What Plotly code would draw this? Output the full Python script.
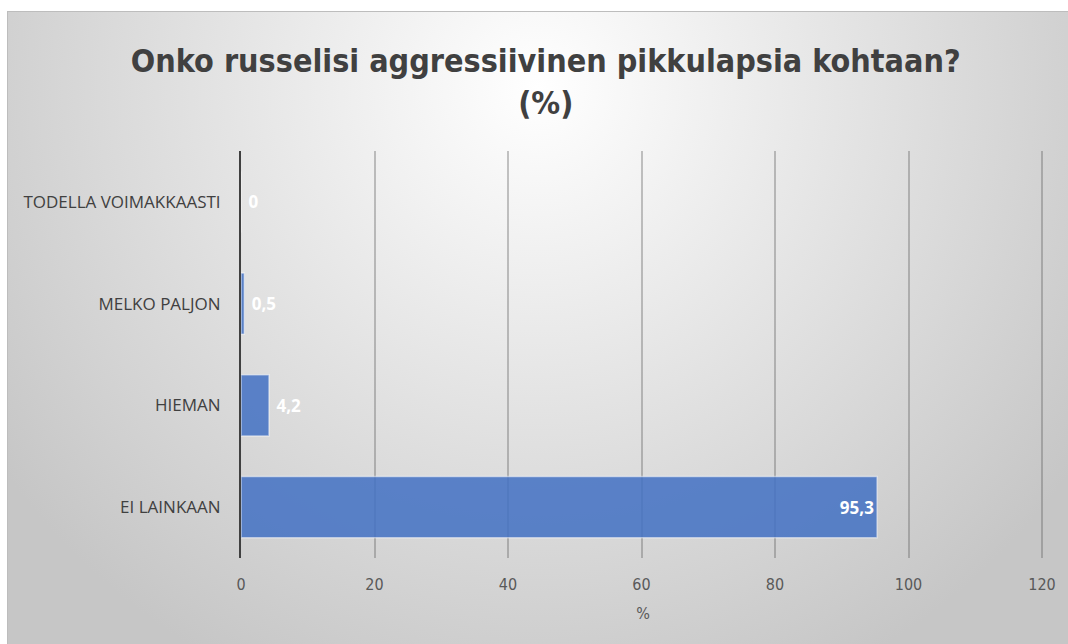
import base64
import plotly.graph_objects as go

categories = ["EI LAINKAAN", "HIEMAN", "MELKO PALJON", "TODELLA VOIMAKKAASTI"]
values = [95.3, 4.2, 0.5, 0]
x_ticks = [0, 20, 40, 60, 80, 100, 120]

title_text = "Onko russelisi aggressiivinen pikkulapsia kohtaan?<br>(%)"
x_title = "%"

W, H = 1068, 644
ML, MR, MT, MB = 241, 23, 151, 86
X_MAX = 120.45  # a touch past 120 so its gridline is still drawn
narrow = "DejaVu Sans Condensed, Liberation Sans Narrow, Lato, sans-serif"

labels = [f"{v:g}".replace(".", ",") for v in values]
positions = ["inside" if v > 20 else "outside" for v in values]
# small bars: Excel puts the label a little away from the axis
labels = [t if p == "inside" else "\u00a0" + t for t, p in zip(labels, positions)]

# radial grey gradient behind the chart, like the Office default style
bg_w, bg_h = W - 7, H - 11
svg = f"""<svg xmlns='http://www.w3.org/2000/svg' width='{bg_w}' height='{bg_h}' viewBox='0 0 {bg_w} {bg_h}' preserveAspectRatio='none'>
<defs><radialGradient id='g' gradientUnits='userSpaceOnUse' cx='{bg_w*0.5}' cy='{bg_h*0.12}' r='{bg_w*0.62}'>
<stop offset='0' stop-color='#ffffff'/><stop offset='1' stop-color='#c6c6c6'/></radialGradient></defs>
<rect x='0' y='0' width='{bg_w}' height='{bg_h}' fill='url(#g)'/>
<line x1='0' y1='0.5' x2='{bg_w}' y2='0.5' stroke='#bdbdbd' stroke-width='1'/>
<line x1='0.5' y1='0' x2='0.5' y2='{bg_h}' stroke='#bdbdbd' stroke-width='1'/>
</svg>"""
src = "data:image/svg+xml;base64," + base64.b64encode(svg.encode()).decode()

pw, ph = W - ML - MR, H - MT - MB

fig = go.Figure(go.Bar(
    x=values, y=categories, orientation="h",
    text=labels, textposition=positions, insidetextanchor="end",
    textfont=dict(family="Open Sans", size=17, color="white", weight="bold"),
    outsidetextfont=dict(family="Open Sans", size=17, color="white", weight="bold"),
    marker=dict(color="#4472c4", opacity=0.86,
                line=dict(color="rgba(255,255,255,0.55)", width=1.5)),
    cliponaxis=False,
))

fig.update_layout(
    width=W, height=H,
    margin=dict(l=ML, r=MR, t=MT, b=MB, pad=0),
    paper_bgcolor="white", plot_bgcolor="rgba(0,0,0,0)",
    bargap=0.4,
    showlegend=False,
    title=dict(text=title_text, x=0.511, xanchor="center", y=0.888, yanchor="middle",
               font=dict(family=narrow, size=32, color="#404040", weight="bold")),
    images=[dict(source=src, xref="paper", yref="paper",
                 x=(7 - ML) / pw, y=(H - MB - 11) / ph,
                 sizex=bg_w / pw, sizey=bg_h / ph,
                 xanchor="left", yanchor="top", sizing="stretch", layer="below")],
    xaxis=dict(range=[0, X_MAX], tickvals=x_ticks, showgrid=True,
               gridcolor="rgba(90,90,90,0.35)", gridwidth=1.5, zeroline=False,
               showline=False, ticks="", ticklabelstandoff=15,
               tickfont=dict(family=narrow, size=16, color="#595959"),
               title=dict(text=x_title, standoff=14,
                          font=dict(family=narrow, size=16, color="#595959"))),
    yaxis=dict(showline=True, linecolor="#404040", linewidth=2, ticks="",
               showgrid=False, zeroline=False, ticklabelstandoff=15,
               tickfont=dict(family="Open Sans", size=17, color="#404040")),
)

fig.write_html("out.html", config={"displayModeBar": False},
               post_script="document.body.style.margin='0';document.body.style.overflow='hidden';")
